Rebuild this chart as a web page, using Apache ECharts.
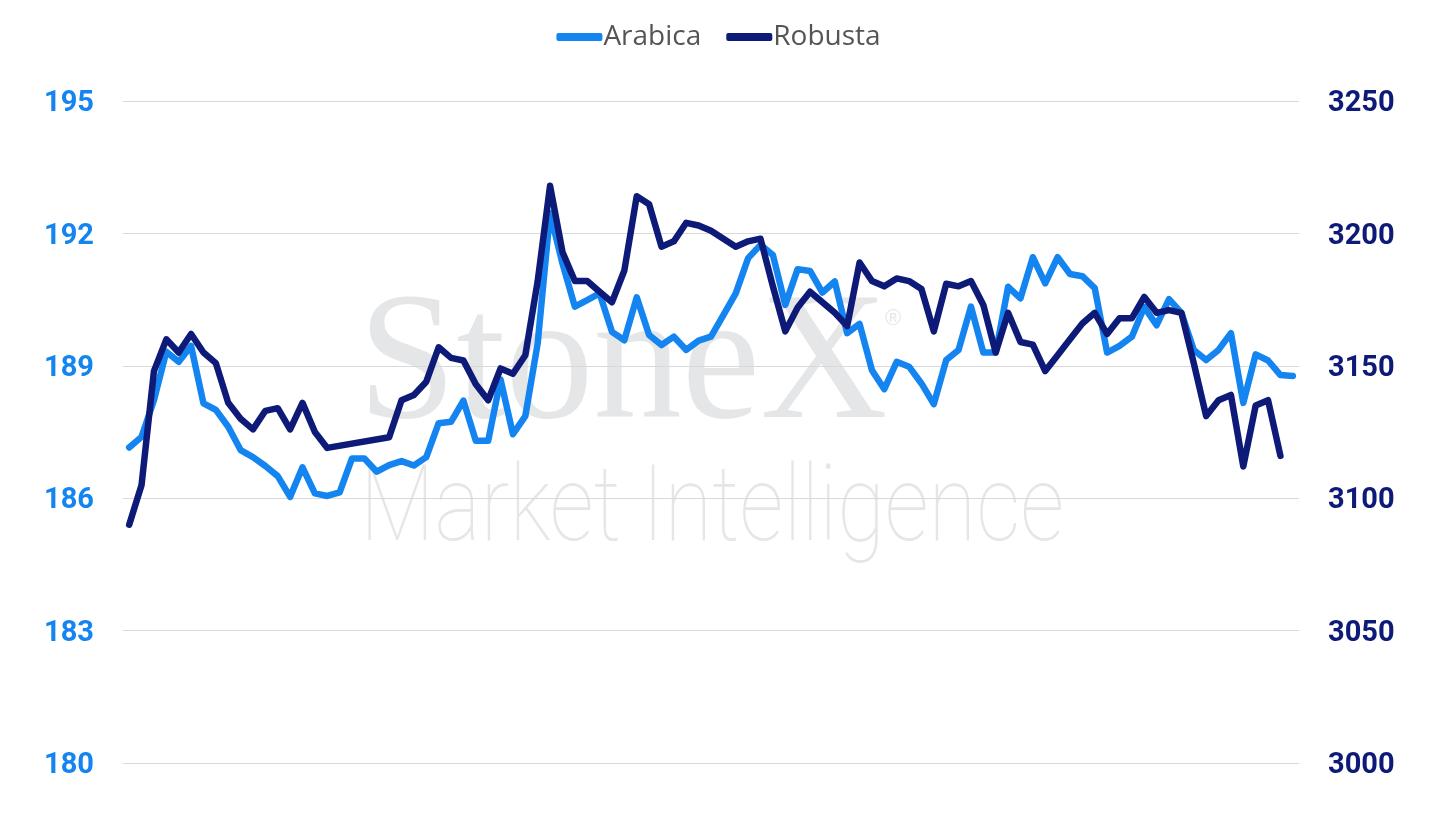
<!DOCTYPE html>
<html>
<head>
<meta charset="utf-8">
<style>
html,body{margin:0;padding:0;background:#fff;}
#chart{width:1437px;height:827px;}
</style>
<script src="https://cdn.jsdelivr.net/npm/echarts@6/dist/echarts.min.js"></script>
</head>
<body>
<div id="chart"></div>
<script>
// Category labels (dates not shown on the reference)
const categories = Array.from({length: 95}, (_, i) => String(i + 1));

const arabica = [
  187.15, 187.39, 188.22, 189.32, 189.09, 189.45, 188.15, 188.00, 187.62, 187.09,
  186.93, 186.73, 186.50, 186.03, 186.70, 186.11, 186.05, 186.13, 186.90, 186.90,
  186.60, 186.75, 186.84, 186.74, 186.93, 187.70, 187.73, 188.21, 187.30, 187.30,
  188.69, 187.45, 187.86, 189.51, 192.46, 191.32, 190.34, 190.49, 190.64, 189.77,
  189.58, 190.55, 189.70, 189.47, 189.66, 189.36, 189.57, 189.66, 190.15, 190.64,
  191.44, 191.74, 191.51, 190.38, 191.19, 191.15, 190.66, 190.91, 189.74, 189.95,
  188.90, 188.47, 189.09, 188.98, 188.60, 188.13, 189.13, 189.36, 190.34, 189.30,
  189.30, 190.79, 190.53, 191.46, 190.87, 191.46, 191.08, 191.03, 190.76, 189.30,
  189.45, 189.66, 190.33, 189.92, 190.51, 190.20, 189.36, 189.13, 189.36, 189.74,
  188.16, 189.26, 189.12, 188.79, 188.77
];

const robusta = [
  3090, 3105, 3148, 3160, 3155, 3162, 3155, 3151, 3136, 3130,
  3126, 3133, 3134, 3126, 3136, 3125, 3119, null, null, null,
  null, 3123, 3137, 3139, 3144, 3157, 3153, 3152, 3143, 3137,
  3149, 3147, 3154, 3182, 3218, 3193, 3182, 3182, 3178, 3174,
  3186, 3214, 3211, 3195, 3197, 3204, 3203, 3201, 3198, 3195,
  3197, 3198, 3180, 3163, 3172, 3178, 3174, 3170, 3165, 3189,
  3182, 3180, 3183, 3182, 3179, 3163, 3181, 3180, 3182, 3173,
  3155, 3170, 3159, 3158, 3148, 3154, 3160, 3166, 3170, 3162,
  3168, 3168, 3176, 3170, 3171, 3170, 3151, 3131, 3137, 3139,
  3112, 3135, 3137, 3116, null
];

const leftTicks = {min: 180, max: 195, interval: 3};
const rightTicks = {min: 3000, max: 3250, interval: 50};

const C_ARABICA = '#1485f0';
const C_ROBUSTA = '#0e1a78';

const labelRich = (color) => ({
  v: {color: color, fontSize: 29, fontWeight: 'bold', fontFamily: 'Roboto, "Noto Sans", sans-serif', padding: [6, 0, 0, 0]}
});

const chart = echarts.init(document.getElementById('chart'));
chart.setOption({
  animation: false,
  backgroundColor: '#ffffff',
  graphic: [
    {
      type: 'text', left: 358, top: 278, z: -10, silent: true, scaleX: 0.97,
      style: {text: 'StoneX', font: '182px "Liberation Serif", "DejaVu Serif", serif', fill: '#e5e6e8'}
    },
    {
      type: 'text', left: 885, top: 308, z: -10, silent: true,
      style: {text: '®', font: '22px "Liberation Sans", sans-serif', fill: '#e5e6e8'}
    },
    {
      type: 'text', left: 360, top: 460, z: -10, silent: true, scaleX: 0.82,
      style: {text: 'Market Intelligence', font: '100 106px Roboto, "Liberation Sans", sans-serif', fill: '#e5e6e8'}
    }
  ],
  legend: {
    top: 18,
    left: 'center',
    icon: 'roundRect',
    itemWidth: 46,
    itemHeight: 8,
    itemGap: 25,
    textStyle: {fontFamily: '"Open Sans", "Noto Sans", sans-serif', fontSize: 28, color: '#555555', padding: [0, 0, 0, -4]},
    data: ['Arabica', 'Robusta']
  },
  grid: {left: 123, right: 138, top: 101, bottom: 64},
  xAxis: {
    type: 'category',
    data: categories,
    boundaryGap: true,
    axisLine: {show: false},
    axisTick: {show: false},
    axisLabel: {show: false},
    splitLine: {show: false}
  },
  yAxis: [
    {
      type: 'value',
      min: leftTicks.min, max: leftTicks.max, interval: leftTicks.interval,
      axisLine: {show: false}, axisTick: {show: false},
      axisLabel: {margin: 29, formatter: v => '{v|' + v + '}', rich: labelRich(C_ARABICA)},
      splitLine: {show: true, lineStyle: {color: '#d9d9d9', width: 1}}
    },
    {
      type: 'value',
      min: rightTicks.min, max: rightTicks.max, interval: rightTicks.interval,
      axisLine: {show: false}, axisTick: {show: false},
      axisLabel: {margin: 29, formatter: v => '{v|' + v + '}', rich: labelRich(C_ROBUSTA)},
      splitLine: {show: false}
    }
  ],
  series: [
    {
      name: 'Arabica', type: 'line', yAxisIndex: 0, data: arabica,
      showSymbol: false, symbol: 'none', z: 3,
      lineStyle: {color: C_ARABICA, width: 6.5, join: 'round', cap: 'round'},
      itemStyle: {color: C_ARABICA}
    },
    {
      name: 'Robusta', type: 'line', yAxisIndex: 1, data: robusta,
      showSymbol: false, symbol: 'none', connectNulls: true, z: 4,
      lineStyle: {color: C_ROBUSTA, width: 6.5, join: 'round', cap: 'round'},
      itemStyle: {color: C_ROBUSTA}
    }
  ]
});
</script>
</body>
</html>
